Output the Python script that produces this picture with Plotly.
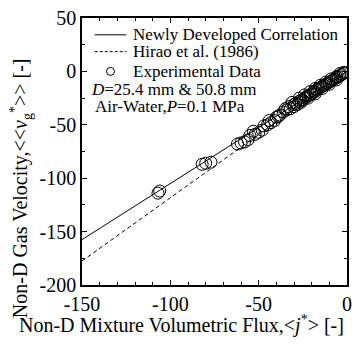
import plotly.graph_objects as go

# Correlation lines (endpoints)
line_x = [-150, 0]
new_corr_y = [-157.5, 0]
hirao_y = [-177.5, 0]

exp_x = [-107, -106, -82, -80, -77, -62, -60, -58, -56, -55, -52, -50, -48,
         -45, -43, -41, -39, -38, -36, -34, -33, -32, -30, -29, -28, -27, -26,
         -25, -24, -23, -22, -21, -20, -19, -18, -17, -16, -15, -14, -13, -12,
         -11, -10, -9, -8, -7, -6, -5, -4, -3, -2, -2,
         -53, -47, -44, -40, -35, -31, -27, -24, -21, -18, -15, -12, -9, -6, -4, -1,
         -30, -26, -22, -18, -14, -10, -6]
exp_y = [-114, -112, -87, -86, -85, -68, -67, -66, -64, -60, -59, -57, -55,
         -50, -48, -46, -42, -41, -38, -36, -33, -35, -31, -30, -31, -28, -27,
         -27, -25, -24, -23, -22, -21, -19, -19, -17, -16, -15, -14, -13, -12,
         -11, -10, -9, -8, -7, -6, -5, -4, -3, -2, -1,
         -56, -51, -46, -43, -35, -29, -25, -22, -19, -16, -13, -10, -7, -5, -2, -1,
         -33, -29, -25, -21, -16, -12, -8]

x_ticks = [-150, -100, -50, 0]
y_ticks = [-200, -150, -100, -50, 0, 50]
x_ticktext = [str(v) for v in x_ticks]
y_ticktext = [str(v) for v in y_ticks]

legend_labels = ["Newly Developed Correlation", "Hirao et al. (1986)", "Experimental Data"]
note_lines = ["<i>D</i>=25.4 mm &amp; 50.8 mm", "Air-Water,<i>P</i>=0.1 MPa"]

FONT = "Liberation Serif, Times New Roman, serif"
DASH = "4px,3px"

fig = go.Figure()
fig.add_trace(go.Scatter(x=line_x, y=new_corr_y, mode="lines",
                         line=dict(color="black", width=1),
                         name=legend_labels[0], showlegend=False))
fig.add_trace(go.Scatter(x=line_x, y=hirao_y, mode="lines",
                         line=dict(color="black", width=1, dash=DASH),
                         name=legend_labels[1], showlegend=False))
fig.add_trace(go.Scatter(x=exp_x, y=exp_y, mode="markers",
                         marker=dict(symbol="circle-open", size=12, color="black",
                                     line=dict(width=1, color="black")),
                         name=legend_labels[2], showlegend=False))

axis_common = dict(
    showgrid=False, zeroline=False, showline=True, linecolor="black", linewidth=1.5,
    mirror="ticks", ticks="inside", ticklen=5, tickcolor="black", tickwidth=1,
    tickfont=dict(family=FONT, size=20, color="black"),
)

fig.update_xaxes(range=[-150, 0], tickvals=x_ticks, ticktext=x_ticktext,
                 minor=dict(dtick=10, ticks="inside", ticklen=3, tickcolor="black"),
                 **axis_common)
fig.update_yaxes(range=[-200, 50], tickvals=y_ticks, ticktext=y_ticktext,
                 minor=dict(dtick=25, ticks="inside", ticklen=3, tickcolor="black"),
                 **axis_common)

# Overlay axes (0..1) used only to place the legend key symbol
fig.update_layout(
    xaxis2=dict(overlaying="x", range=[0, 1], visible=False, fixedrange=True),
    yaxis2=dict(overlaying="y", range=[0, 1], visible=False, fixedrange=True),
)

# Axis titles (placed as in the reference, centred on the figure)
fig.add_annotation(xref="paper", yref="paper", x=0.374, y=-0.148, xanchor="center", yanchor="middle",
                   text="Non-D Mixture Volumetric Flux,&lt;<i>j</i><sup>*</sup>&gt; [-]",
                   showarrow=False, font=dict(family=FONT, size=20, color="black"))
fig.add_annotation(xref="paper", yref="paper", x=-0.23, y=0.363, xanchor="center", yanchor="middle",
                   textangle=-90,
                   text="Non-D Gas Velocity,&lt;&lt;<i>v</i><sub>g</sub><sup>*</sup>&gt;&gt; [-]",
                   showarrow=False, font=dict(family=FONT, size=20, color="black"))

# Manual legend
LX0, LX1, TX = 0.048, 0.167, 0.185
rows = [0.937, 0.874, 0.800]
fig.add_shape(type="line", xref="paper", yref="paper", x0=LX0, x1=LX1, y0=rows[0], y1=rows[0],
              line=dict(color="black", width=1))
fig.add_shape(type="line", xref="paper", yref="paper", x0=LX0, x1=LX1, y0=rows[1], y1=rows[1],
              line=dict(color="black", width=1, dash="3px,2px"))
fig.add_trace(go.Scatter(x=[(LX0 + LX1) / 2], y=[rows[2]], xaxis="x2", yaxis="y2",
                         mode="markers", showlegend=False, hoverinfo="skip",
                         marker=dict(symbol="circle-open", size=8, color="black",
                                     line=dict(width=1, color="black"))))
for lab, ry in zip(legend_labels, rows):
    fig.add_annotation(xref="paper", yref="paper", x=TX, y=ry, xanchor="left", yanchor="middle",
                       text=lab, showarrow=False, font=dict(family=FONT, size=17, color="black"))

fig.add_annotation(xref="paper", yref="paper", x=0.025, y=0.733, xanchor="left", yanchor="middle",
                   text=note_lines[0], showarrow=False,
                   font=dict(family=FONT, size=17, color="black"))
fig.add_annotation(xref="paper", yref="paper", x=0.042, y=0.668, xanchor="left", yanchor="middle",
                   text=note_lines[1], showarrow=False,
                   font=dict(family=FONT, size=17, color="black"))

fig.update_layout(
    width=359, height=346,
    margin=dict(l=82, r=7, t=15, b=61),
    paper_bgcolor="white", plot_bgcolor="white",
    showlegend=False,
)

fig.write_html("out.html")
